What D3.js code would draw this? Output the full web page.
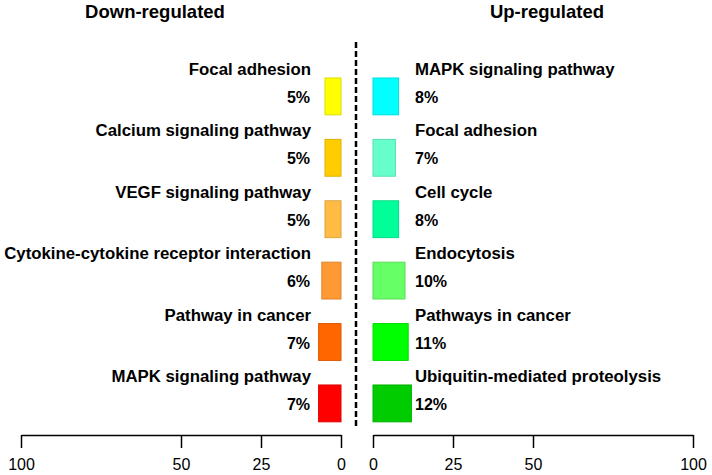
<!DOCTYPE html>
<html>
<head>
<meta charset="utf-8">
<script src="https://cdn.jsdelivr.net/npm/d3@7"></script>
<style>
  html, body { margin: 0; padding: 0; background: #fff; }
  text { font-family: "Liberation Sans", Arial, sans-serif; fill: #000; }
</style>
</head>
<body>
<svg id="chart" width="712" height="475"></svg>
<script>
const downCategories = ["Focal adhesion", "Calcium signaling pathway", "VEGF signaling pathway",
  "Cytokine-cytokine receptor interaction", "Pathway in cancer", "MAPK signaling pathway"];
const downValues = [5, 5, 5, 6, 7, 7];
const downColors = ["#FFFF00", "#FFCC00", "#FFBB44", "#FF9933", "#FF6600", "#FF0000"];

const upCategories = ["MAPK signaling pathway", "Focal adhesion", "Cell cycle",
  "Endocytosis", "Pathways in cancer", "Ubiquitin-mediated proteolysis"];
const upValues = [8, 7, 8, 10, 11, 12];
const upColors = ["#00FFFF", "#66FFCC", "#00FF99", "#66FF66", "#00FF00", "#00CC00"];

const tickValues = [0, 25, 50, 100];
const titles = ["Down-regulated", "Up-regulated"];

const svg = d3.select("#chart");

const xLeft = d3.scaleLinear().domain([0, 100]).range([341, 21]);
const xRight = d3.scaleLinear().domain([0, 100]).range([373, 693]);
const y = d3.scaleBand().domain(d3.range(6)).range([65.7, 434.1]).paddingInner(0.4).paddingOuter(0.2);

// titles
svg.append("text").attr("x", 155).attr("y", 18).attr("text-anchor", "middle")
  .attr("font-weight", "bold").attr("font-size", "18.5px").text(titles[0]);
svg.append("text").attr("x", 547).attr("y", 18).attr("text-anchor", "middle")
  .attr("font-weight", "bold").attr("font-size", "18.5px").text(titles[1]);

// dashed divider
svg.append("line").attr("x1", 356).attr("x2", 356).attr("y1", 42).attr("y2", 427)
  .attr("stroke", "#000").attr("stroke-width", 2.5).attr("stroke-dasharray", "6,3");

function darker(c) { return d3.color(c).darker(0.4).formatHex(); }

// left bars
const gL = svg.append("g");
gL.selectAll("rect").data(downValues).join("rect")
  .attr("x", d => xLeft(d)).attr("y", (d, i) => y(i))
  .attr("width", d => xLeft(0) - xLeft(d)).attr("height", y.bandwidth())
  .attr("fill", (d, i) => downColors[i]).attr("stroke", (d, i) => darker(downColors[i])).attr("stroke-width", 1);
gL.selectAll("text.cat").data(downCategories).join("text").attr("class", "cat")
  .attr("x", 311).attr("y", (d, i) => y(i) - 3).attr("text-anchor", "end")
  .attr("font-weight", "bold").attr("font-size", "16.8px").text(d => d);
gL.selectAll("text.pct").data(downValues).join("text").attr("class", "pct")
  .attr("x", 310).attr("y", (d, i) => y(i) + 25).attr("text-anchor", "end")
  .attr("font-weight", "bold").attr("font-size", "16px").text(d => d + "%");

// right bars
const gR = svg.append("g");
gR.selectAll("rect").data(upValues).join("rect")
  .attr("x", xRight(0)).attr("y", (d, i) => y(i))
  .attr("width", d => xRight(d) - xRight(0)).attr("height", y.bandwidth())
  .attr("fill", (d, i) => upColors[i]).attr("stroke", (d, i) => darker(upColors[i])).attr("stroke-width", 1);
gR.selectAll("text.cat").data(upCategories).join("text").attr("class", "cat")
  .attr("x", 415).attr("y", (d, i) => y(i) - 3).attr("text-anchor", "start")
  .attr("font-weight", "bold").attr("font-size", "16.8px").text(d => d);
gR.selectAll("text.pct").data(upValues).join("text").attr("class", "pct")
  .attr("x", 415).attr("y", (d, i) => y(i) + 25).attr("text-anchor", "start")
  .attr("font-weight", "bold").attr("font-size", "16px").text(d => d + "%");

// axes
function styleAxis(g) {
  g.select(".domain").attr("stroke", "#000").attr("stroke-width", 1.5);
  g.selectAll(".tick line").attr("stroke", "#000").attr("stroke-width", 1.5);
  g.selectAll(".tick text").attr("font-size", "16px").attr("font-family", "Liberation Sans, Arial, sans-serif").attr("fill", "#000");
}
const axL = d3.axisBottom(xLeft).tickValues(tickValues).tickSizeInner(13).tickSizeOuter(0).tickPadding(11);
const axR = d3.axisBottom(xRight).tickValues(tickValues).tickSizeInner(13).tickSizeOuter(0).tickPadding(11);
const gAL = svg.append("g").attr("transform", "translate(0,435)").call(axL);
const gAR = svg.append("g").attr("transform", "translate(0,435)").call(axR);
[gAL, gAR].forEach(styleAxis);
</script>
</body>
</html>
